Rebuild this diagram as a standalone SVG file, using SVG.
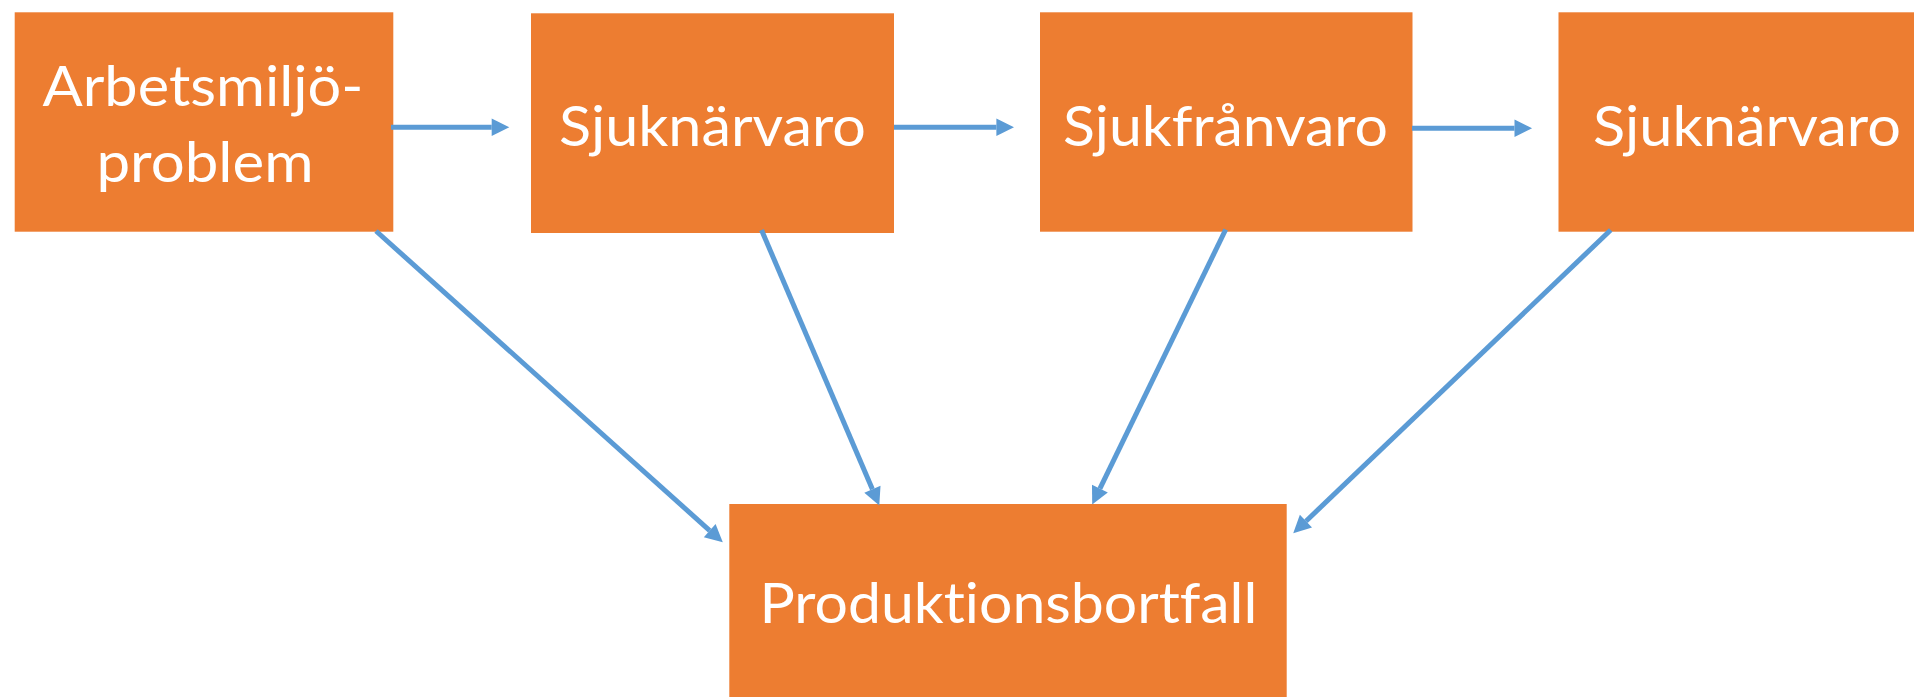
<svg xmlns="http://www.w3.org/2000/svg" width="1914" height="697" viewBox="0 0 1914 697">
<style>
.box{fill:#ED7D31;}
.lbl{font-family:Lato,"Open Sans","Liberation Sans",sans-serif;font-size:57px;fill:#FFFFFF;font-variant-ligatures:none;font-feature-settings:"liga" 0,"clig" 0;}
.conn{stroke:#5B9BD5;stroke-width:5;fill:none;marker-end:url(#ah);}
</style>
<defs>
<marker id="ah" markerUnits="strokeWidth" markerWidth="3.6" markerHeight="3.6" refX="0" refY="1.76" orient="auto" overflow="visible">
<path d="M0,0 L3.52,1.76 L0,3.52 Z" fill="#5B9BD5"/>
</marker>
</defs>
<rect width="1914" height="697" fill="#FFFFFF"/>
<g id="n1">
<rect class="box" x="14.7" y="12.3" width="378.6" height="219.4"/>
<text class="lbl" x="42.5" y="105.7" textLength="321" lengthAdjust="spacingAndGlyphs">Arbetsmiljö-</text>
<text class="lbl" x="96.5" y="181.7" textLength="217" lengthAdjust="spacingAndGlyphs">problem</text>
</g>
<g id="n2">
<rect class="box" x="531" y="13.3" width="363" height="219.7"/>
<text class="lbl" x="559" y="145.7" textLength="307" lengthAdjust="spacingAndGlyphs">Sjuknärvaro</text>
</g>
<g id="n3">
<rect class="box" x="1040" y="12.3" width="372.5" height="219.4"/>
<text class="lbl" x="1063" y="145.7" textLength="325" lengthAdjust="spacingAndGlyphs">Sjukfrånvaro</text>
</g>
<g id="n4">
<rect class="box" x="1558.5" y="12.3" width="380" height="219.4"/>
<text class="lbl" x="1593" y="146" textLength="308" lengthAdjust="spacingAndGlyphs">Sjuknärvaro</text>
</g>
<g id="n5">
<rect class="box" x="729.3" y="504" width="557.4" height="200"/>
<text class="lbl" x="759.4" y="623.3" textLength="498" lengthAdjust="spacingAndGlyphs">Produktionsbortfall</text>
</g>
<g id="connectors">
<line class="conn" x1="391" y1="127.3" x2="491.7" y2="127.3"/>
<line class="conn" x1="894" y1="127.3" x2="996.4" y2="127.3"/>
<line class="conn" x1="1412" y1="128.3" x2="1514.5" y2="128.3"/>
<line class="conn" x1="376" y1="231" x2="709.7" y2="530.6"/>
<line class="conn" x1="761.5" y1="230" x2="872.4" y2="489.2"/>
<line class="conn" x1="1225.7" y1="229.5" x2="1099.9" y2="488.6"/>
<line class="conn" x1="1610.7" y1="230" x2="1305.95" y2="521.2"/>
</g>
</svg>
